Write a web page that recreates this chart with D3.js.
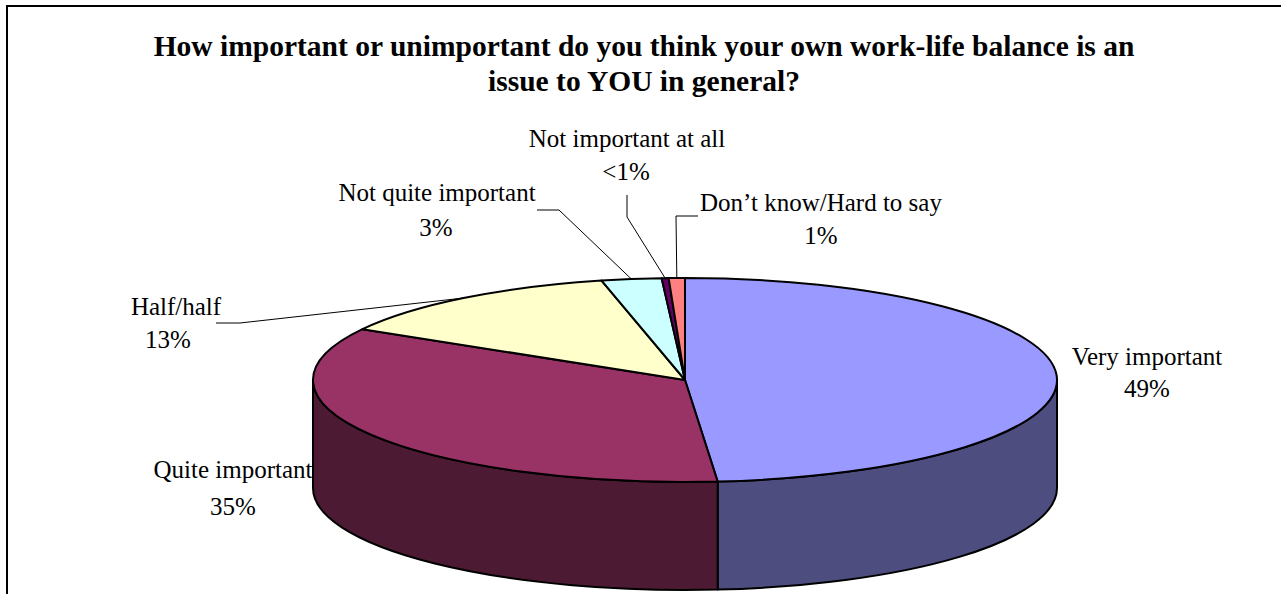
<!DOCTYPE html>
<html><head><meta charset="utf-8">
<script src="https://cdn.jsdelivr.net/npm/d3@7"></script>
<style>
html,body{margin:0;padding:0;background:#fff;}
svg{display:block;}
text{font-family:"Liberation Serif","Times New Roman",serif;}
</style></head>
<body>
<svg id="chart" width="1281" height="594"></svg>
<script>
// ---- data ----
const categories = ["Very important","Quite important","Half/half","Not quite important","Not important at all","Don\u2019t know/Hard to say"];
const values = [48.6, 34.7, 13.1, 2.6, 0.3, 0.7];
const valueLabels = ["49%","35%","13%","3%","<1%","1%"];
const colors = ["#9999FF","#993366","#FFFFCC","#CCFFFF","#660066","#FF8080"];
const titleLines = ["How important or unimportant do you think your own work-life balance is an","issue to YOU in general?"];

// ---- layout ----
const W = 1281, H = 594;
const cx = 685, cy = 380, rx = 372, ry = 102, depth = 108;
// label layout: text centre x, name baseline, value baseline, leader path (elbow points) or null
const labelLayout = [
  {x:1147, y:365, vx:1147, vy:397, leader:null},
  {x:233, y:478, vx:233, vy:515, leader:null},
  {x:176, y:315, vx:168, vy:348, leader:[[216,323],[240,323]]},
  {x:437, y:201, vx:436, vy:236, leader:[[537,210],[559,210]]},
  {x:627, y:147, vx:626, vy:180, leader:[[627,195],[627,217]]},
  {x:821, y:211, vx:821, vy:244, leader:[[698,216],[676,216]]}
];

const svg = d3.select("#chart");
svg.append("rect").attr("width",W).attr("height",H).attr("fill","#fff");

// frame
svg.append("path").attr("d",`M7,${H} L7,6 L${W},6`).attr("fill","none").attr("stroke","#000").attr("stroke-width",2);

// title
svg.append("text").attr("x",644).attr("y",56).attr("text-anchor","middle")
  .attr("font-weight","bold").attr("font-size",29.5).text(titleLines[0]);
svg.append("text").attr("x",644).attr("y",91).attr("text-anchor","middle")
  .attr("font-weight","bold").attr("font-size",29.5).text(titleLines[1]);

const pie = d3.pie().sort(null).value(d=>d);
const arcs = pie(values);

const pt = (t, dy=0) => [cx + rx*Math.sin(t), cy - ry*Math.cos(t) + dy];
const darker = c => { const k = d3.rgb(c); return d3.rgb(k.r*0.5,k.g*0.5,k.b*0.5).formatHex(); };

function ellArc(a,b,dy,reverse){
  const large = Math.abs(b-a) > Math.PI ? 1 : 0;
  const end = pt(reverse ? a : b, dy);
  return `A${rx},${ry} 0 ${large} ${reverse?0:1} ${end[0]},${end[1]}`;
}

// side faces (front half: t in [PI/2, 3PI/2])
const gSide = svg.append("g");
arcs.forEach((d,i)=>{
  const a = Math.max(d.startAngle, Math.PI/2), b = Math.min(d.endAngle, 3*Math.PI/2);
  if (b <= a) return;
  const p0 = pt(a), q1 = pt(b,depth);
  const path = `M${p0[0]},${p0[1]} ${ellArc(a,b,0,false)} L${q1[0]},${q1[1]} ${ellArc(a,b,depth,true)} Z`;
  gSide.append("path").attr("d",path).attr("fill",darker(colors[i]))
    .attr("stroke","#000").attr("stroke-width",2).attr("stroke-linejoin","round");
});

// top faces
const gTop = svg.append("g");
arcs.forEach((d,i)=>{
  const p0 = pt(d.startAngle);
  const path = `M${cx},${cy} L${p0[0]},${p0[1]} ${ellArc(d.startAngle,d.endAngle,0,false)} Z`;
  gTop.append("path").attr("d",path).attr("fill",colors[i])
    .attr("stroke","#000").attr("stroke-width",2).attr("stroke-linejoin","round");
});

// labels and leader lines
const gLab = svg.append("g");
arcs.forEach((d,i)=>{
  const L = labelLayout[i];
  if (L.leader){
    const mid = pt((d.startAngle+d.endAngle)/2);
    const pts = L.leader.concat([mid]);
    gLab.append("path").attr("d", d3.line()(pts)).attr("fill","none").attr("stroke","#000").attr("stroke-width",1);
  }
  gLab.append("text").attr("x",L.x).attr("y",L.y).attr("text-anchor","middle").attr("font-size",25).text(categories[i]);
  gLab.append("text").attr("x",L.vx).attr("y",L.vy).attr("text-anchor","middle").attr("font-size",25).text(valueLabels[i]);
});
</script>
</body></html>
